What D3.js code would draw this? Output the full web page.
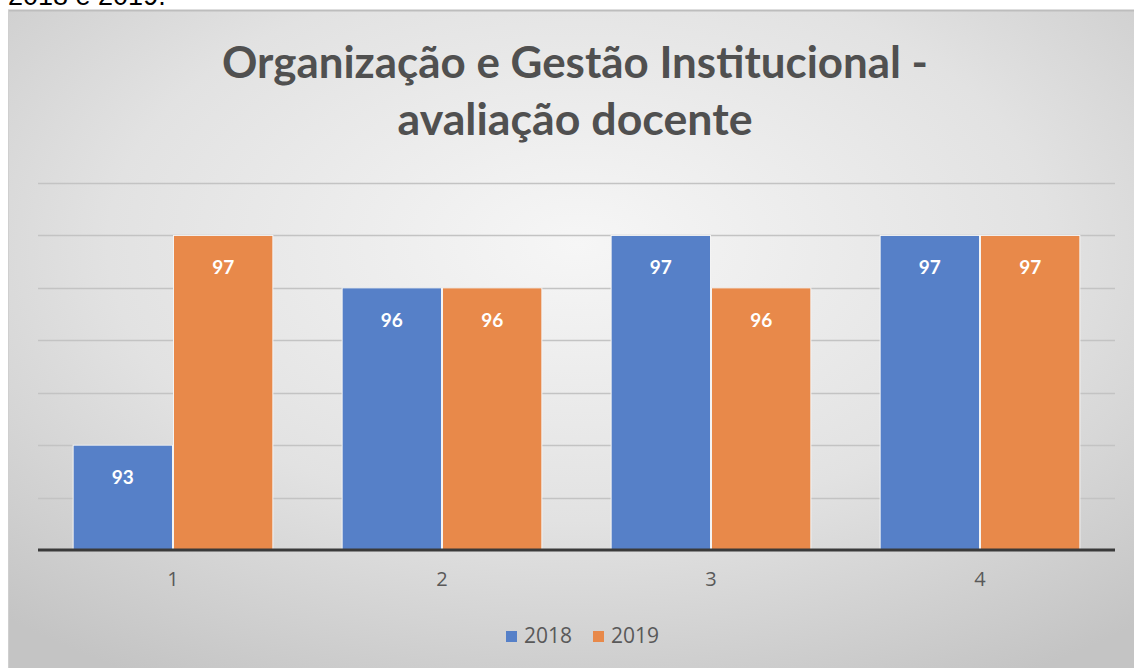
<!DOCTYPE html>
<html><head><meta charset="utf-8">
<script src="https://cdn.jsdelivr.net/npm/d3@7"></script>
<style>html,body{margin:0;padding:0;background:#fff;overflow:hidden}</style>
</head><body>
<svg id="c" width="1134" height="668"></svg>
<script>
const categories = ["1", "2", "3", "4"];
const seriesNames = ["2018", "2019"];
const values2018 = [93, 96, 97, 97];
const values2019 = [97, 96, 96, 97];
const yTicks = [91, 92, 93, 94, 95, 96, 97, 98];
const titleLines = ["Organização e Gestão Institucional -", "avaliação docente"];
const captionTop = "2018 e 2019.";

const colors = {"2018": "#5680c8", "2019": "#e8894a"};
const svg = d3.select("#c");

// caption from the surrounding document (cropped)
svg.append("text").attr("x", 8).attr("y", 5).attr("font-family", "Liberation Sans, Arial")
  .attr("font-size", 27).attr("fill", "#000").text(captionTop);

const defs = svg.append("defs");
const rg = defs.append("radialGradient").attr("id", "bg")
  .attr("cx", "50%").attr("cy", "35%").attr("r", "75%");
rg.append("stop").attr("offset", "0%").attr("stop-color", "#f6f6f6");
rg.append("stop").attr("offset", "55%").attr("stop-color", "#e2e2e2");
rg.append("stop").attr("offset", "100%").attr("stop-color", "#c4c4c4");

svg.append("rect").attr("x", 8).attr("y", 10).attr("width", 1140).attr("height", 670)
  .attr("fill", "url(#bg)");
svg.append("line").attr("x1", 8).attr("x2", 1134).attr("y1", 10.5).attr("y2", 10.5)
  .attr("stroke", "#bdbdbd").attr("stroke-width", 2);
svg.append("line").attr("x1", 8.5).attr("x2", 8.5).attr("y1", 10).attr("y2", 668)
  .attr("stroke", "#cfcfcf").attr("stroke-width", 1);

// title
const titleWidths = [706, 355];
const titleBaselines = [78, 135];
titleLines.forEach((t, i) => {
  svg.append("text").attr("x", 575).attr("y", titleBaselines[i]).attr("text-anchor", "middle")
    .attr("font-family", "Lato, 'Open Sans', sans-serif").attr("font-weight", "bold")
    .attr("font-size", 43).attr("fill", "#505050")
    .attr("textLength", titleWidths[i]).attr("lengthAdjust", "spacingAndGlyphs").text(t);
});

const x0 = d3.scaleBand().domain(categories).range([38.5, 1114.5]).paddingInner(0.25).paddingOuter(0.125);
const x1 = d3.scaleBand().domain(seriesNames).range([0, x0.bandwidth()]).padding(0.01);
const y = d3.scaleLinear().domain([91, 98]).range([550, 183]);

// gridlines
const grid = svg.append("g");
grid.selectAll("line").data(yTicks.slice(1)).join("line")
  .attr("x1", 38).attr("x2", 1115)
  .attr("y1", d => Math.round(y(d)) + 0.5).attr("y2", d => Math.round(y(d)) + 0.5)
  .attr("stroke", "#c3c3c3").attr("stroke-width", 1.5);

const data = categories.map((c, i) => ({c, vals: [
  {s: "2018", v: values2018[i]}, {s: "2019", v: values2019[i]}]}));

const g = svg.append("g");
const groups = g.selectAll("g").data(data).join("g")
  .attr("transform", d => `translate(${x0(d.c)},0)`);
groups.selectAll("rect").data(d => d.vals).join("rect")
  .attr("x", d => x1(d.s)).attr("width", x1.bandwidth())
  .attr("y", d => y(d.v)).attr("height", d => y(91) - y(d.v))
  .attr("fill", d => colors[d.s]).attr("stroke", "#f4f4f4").attr("stroke-width", 1);
groups.selectAll("text").data(d => d.vals).join("text")
  .attr("x", d => x1(d.s) + x1.bandwidth() / 2).attr("y", d => y(d.v) + 39)
  .attr("text-anchor", "middle").attr("font-family", "Lato, 'Open Sans', sans-serif")
  .attr("font-weight", "bold").attr("font-size", 19).attr("fill", "#fff").text(d => d.v);

// x axis
const xAxis = d3.axisBottom(x0).tickSize(0).tickPadding(22);
const ax = svg.append("g").attr("transform", "translate(0,550)").call(xAxis);
ax.select(".domain").attr("stroke", "#3a3a3a").attr("stroke-width", 3).attr("d", "M38,0H1115");
ax.selectAll("text").attr("font-family", "'Open Sans', Lato, sans-serif").attr("font-size", 20)
  .attr("fill", "#595959");

// legend
const leg = svg.append("g").attr("transform", "translate(506,636)");
const items = [{s: "2018", x: 0}, {s: "2019", x: 87}];
items.forEach(it => {
  leg.append("rect").attr("x", it.x).attr("y", -5).attr("width", 11).attr("height", 11)
    .attr("fill", colors[it.s]);
  leg.append("text").attr("x", it.x + 18).attr("y", 7).attr("font-family", "'Open Sans', Lato, sans-serif")
    .attr("font-size", 21).attr("fill", "#595959").text(it.s);
});
</script>
</body></html>
